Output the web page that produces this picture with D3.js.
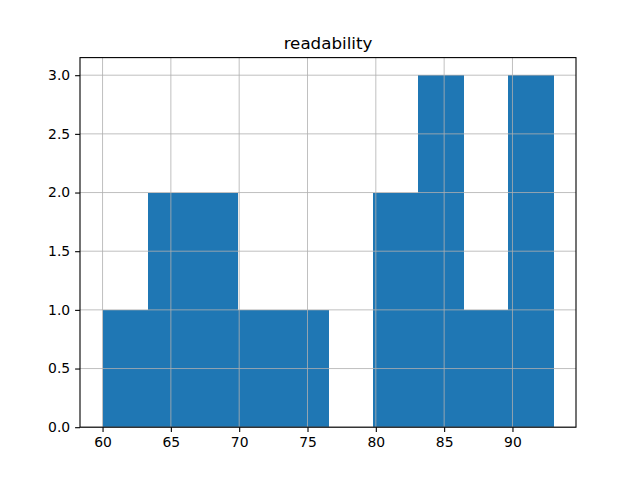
<!DOCTYPE html>
<html><head><meta charset="utf-8">
<script src="https://cdn.jsdelivr.net/npm/d3@7"></script>
<style>body{margin:0;background:#fff}svg{display:block}text{font-family:"DejaVu Sans",sans-serif}</style>
</head><body><svg id="c" width="640" height="480"></svg>
<script>
const title = "readability";
const binEdges = [60, 63.3, 66.6, 69.9, 73.2, 76.5, 79.8, 83.1, 86.4, 89.7, 93];
const counts = [1, 2, 2, 1, 1, 0, 2, 3, 1, 3];
const xTicks = [60, 65, 70, 75, 80, 85, 90];
const yTicks = [0, 0.5, 1.0, 1.5, 2.0, 2.5, 3.0];

const svg = d3.select("#c");
const L = 80, R = 576, T = 57.6, B = 427.2;
const xmin = binEdges[0], xmax = binEdges[binEdges.length - 1], pad = (xmax - xmin) * 0.05;
const x = d3.scaleLinear().domain([xmin - pad, xmax + pad]).range([L, R]);
const y = d3.scaleLinear().domain([0, d3.max(counts) * 1.05]).range([B, T]);

const bins = counts.map((c, i) => ({x0: binEdges[i], x1: binEdges[i + 1], c}));
svg.append("g").attr("shape-rendering", "crispEdges").selectAll("rect").data(bins).join("rect")
  .attr("x", d => x(d.x0)).attr("width", d => x(d.x1) - x(d.x0) + 0.5)
  .attr("y", d => y(d.c)).attr("height", d => y(0) - y(d.c))
  .attr("fill", "#1f77b4");

// grid
const g = svg.append("g").attr("stroke", "#b0b0b0").attr("stroke-width", 0.8);
xTicks.forEach(t => g.append("line").attr("x1", x(t)).attr("x2", x(t)).attr("y1", T).attr("y2", B));
yTicks.forEach(t => g.append("line").attr("x1", L).attr("x2", R).attr("y1", y(t)).attr("y2", y(t)));

// axes
const xa = svg.append("g").attr("transform", `translate(0,${B})`)
  .call(d3.axisBottom(x).tickValues(xTicks).tickSize(4.9).tickPadding(4.9).tickFormat(d3.format("d")));
const ya = svg.append("g").attr("transform", `translate(${L},0)`)
  .call(d3.axisLeft(y).tickValues(yTicks).tickSize(4.9).tickPadding(4.9).tickFormat(d3.format(".1f")));
[xa, ya].forEach(a => {
  a.select(".domain").remove();
  a.selectAll("line").attr("stroke", "#000").attr("stroke-width", 1.1);
  a.selectAll("text").attr("font-size", "13.9px").attr("fill", "#000").attr("font-family", "DejaVu Sans");
});

// spines
svg.append("rect").attr("x", L).attr("y", T).attr("width", R - L).attr("height", B - T)
  .attr("fill", "none").attr("stroke", "#000").attr("stroke-width", 1.1);

svg.append("text").attr("x", (L + R) / 2).attr("y", T - 8.3).attr("text-anchor", "middle")
  .attr("font-size", "16.7px").attr("fill", "#000").text(title);
</script></body></html>
